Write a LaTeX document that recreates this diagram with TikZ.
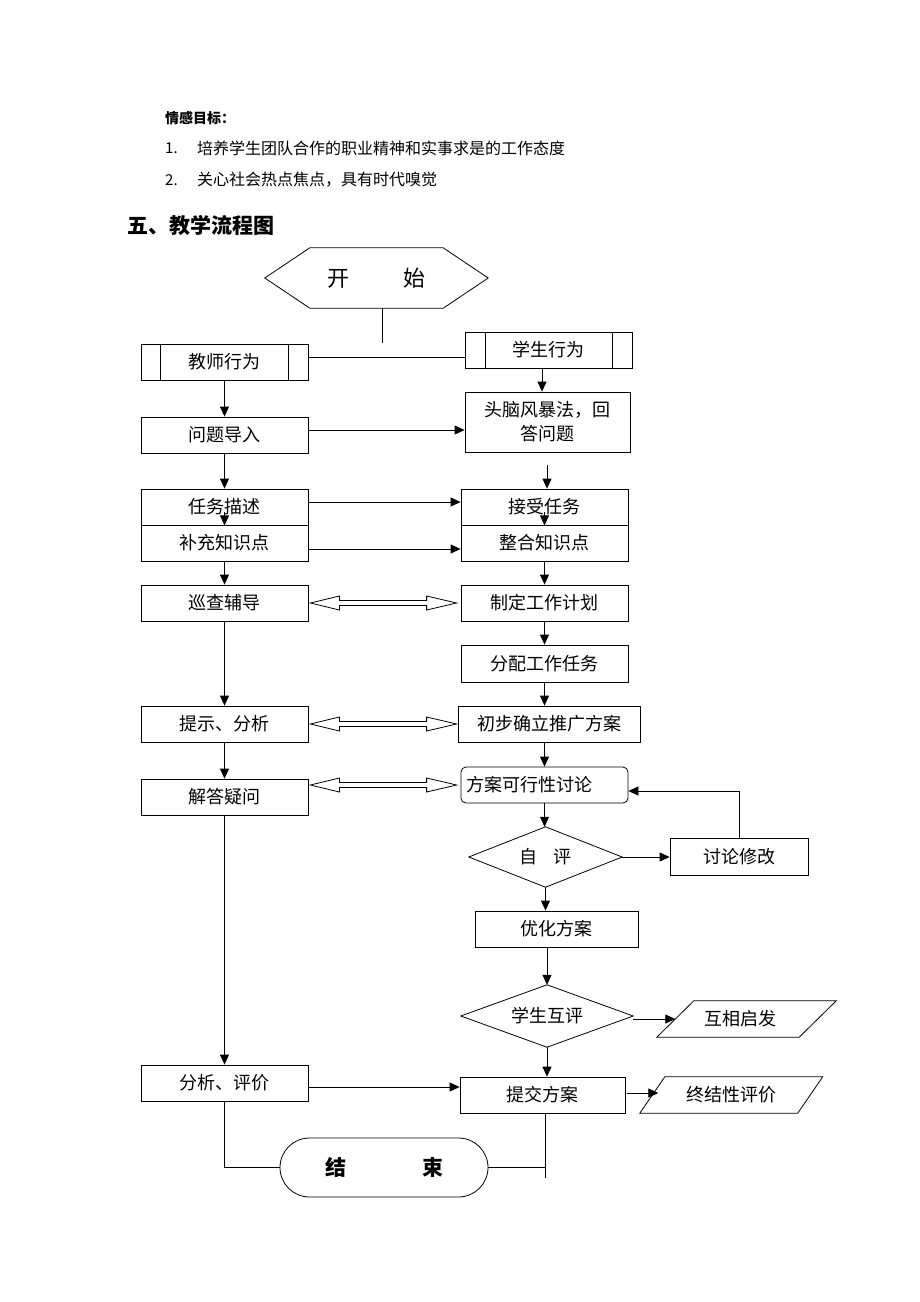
\documentclass[tikz,border=0pt]{standalone}
\usepackage{fontspec}
\setmainfont{Noto Sans CJK SC}
\usetikzlibrary{arrows.meta,calc,shapes.misc}
\tikzset{
  ln/.style={line width=0.8pt},
  arr/.style={ln,-{Triangle[length=10pt,width=9pt]}},
  bx/.style={draw,ln,rectangle,inner sep=0pt,minimum width=167pt,minimum height=36pt,font=\fontsize{18}{18}\selectfont},
  ghost/.style={inner sep=0pt,font=\fontsize{18}{18}\selectfont},
  txt/.style={anchor=west,inner sep=0pt,font=\fontsize{16}{16}\selectfont},
}
\newcommand\hollowdbl[2]{%
  \draw[ln,fill=white] let \p1=(#1), \p2=(#2) in
  (\x1,\y1) -- (\x1+29pt,\y1+7pt) -- (\x1+29pt,\y1+2.5pt) -- (\x2-30pt,\y1+2.5pt) -- (\x2-30pt,\y1+7pt) -- (\x2,\y1)
  -- (\x2-30pt,\y1-7pt) -- (\x2-30pt,\y1-2.5pt) -- (\x1+29pt,\y1-2.5pt) -- (\x1+29pt,\y1-7pt) -- cycle;}
\begin{document}
\begin{tikzpicture}[x=1pt,y=-1pt]
\fill[white] (0,0) rectangle (920,1302);
\useasboundingbox (0,0) rectangle (920,1302);

% header text
\node[txt,font=\fontsize{14}{14}\selectfont\bfseries] (h1) at (165,118) {情感目标：};
\node[txt,font=\fontsize{15}{15}\selectfont] (n1) at (165,148) {1.};
\node[txt] (l1) at (197,148) {培养学生团队合作的职业精神和实事求是的工作态度};
\node[txt,font=\fontsize{15}{15}\selectfont] (n2) at (165,180) {2.};
\node[txt] (l2) at (197,180) {关心社会热点焦点，具有时代嗅觉};
\node[txt,font=\fontsize{21}{21}\selectfont\bfseries] (h2) at (127,225) {五、教学流程图};

% start hexagon
\node[inner sep=0pt,minimum width=223pt,minimum height=60pt,font=\fontsize{22}{22}\selectfont] (start) at (376.5,278) {开\hspace{54pt}始};
\draw[ln] (start.west) -- ([xshift=45pt]start.north west) -- ([xshift=-45pt]start.north east) -- (start.east)
  -- ([xshift=-45pt]start.south east) -- ([xshift=45pt]start.south west) -- cycle;
\coordinate (j1) at (382,343);
\draw[ln] (start.south -| j1) -- (j1);

% teacher column
\node[bx] (T0) at (224.5,362) {教师行为};
\draw[ln] ([xshift=20pt]T0.north west) -- ([xshift=20pt]T0.south west);
\draw[ln] ([xshift=-20pt]T0.north east) -- ([xshift=-20pt]T0.south east);
\node[bx] (T1) at (224.5,435) {问题导入};
\node[bx] (T2) at (224.5,507) {任务描述};
\node[bx] (T3) at (224.5,543) {补充知识点};
\node[bx] (T4) at (224.5,603) {巡查辅导};
\node[bx] (T5) at (224.5,724) {提示、分析};
\node[bx] (T6) at (224.5,797) {解答疑问};
\node[bx] (T7) at (224.5,1083) {分析、评价};

% student column
\node[bx] (S0) at (548.5,350) {学生行为};
\draw[ln] ([xshift=21pt]S0.north west) -- ([xshift=21pt]S0.south west);
\draw[ln] ([xshift=-20pt]S0.north east) -- ([xshift=-20pt]S0.south east);
\node[bx,minimum width=165pt,minimum height=60pt,align=center,font=\fontsize{18}{24}\selectfont] (S1) at (547.5,422) {头脑风暴法，回\\答问题};
\node[bx] (S2) at (544.5,507) {接受任务};
\node[bx] (S3) at (544.5,543) {整合知识点};
\node[bx] (S4) at (544.5,603) {制定工作计划};
\node[bx,minimum height=37pt] (S5) at (544.5,663.5) {分配工作任务};
\node[bx,minimum width=182pt] (S6) at (549,724) {初步确立推广方案};
\node[bx,rounded corners=5pt,text width=157pt,align=left,inner xsep=5pt] (S7) at (544.5,785) {方案可行性讨论};
\node[ghost,minimum width=153pt,minimum height=60pt] (D1) at (545.5,857) {自\hspace{16pt}评};
\draw[ln] (D1.north) -- (D1.east) -- (D1.south) -- (D1.west) -- cycle;
\node[bx,minimum width=138pt,minimum height=37pt] (S8) at (739,856.5) {讨论修改};
\node[bx,minimum width=163pt] (S9) at (556.5,929) {优化方案};
\node[ghost,minimum width=172pt,minimum height=62pt] (D2) at (547,1016) {学生互评};
\draw[ln] (D2.north) -- (D2.east) -- (D2.south) -- (D2.west) -- cycle;
\node[ghost,minimum width=142pt,minimum height=36pt,text width=122pt,align=left,inner xsep=10pt] (P1) at (746.5,1019) {\hspace{19pt}互相启发};
\draw[ln] ([xshift=18.5pt]P1.north west) -- ([xshift=18.5pt]P1.north east) -- ([xshift=-18.5pt]P1.south east) -- ([xshift=-18.5pt]P1.south west) -- cycle;
\node[bx,minimum width=165pt] (S10) at (542.5,1095) {提交方案};
\node[ghost,minimum width=157.5pt,minimum height=36pt] (P2) at (731.25,1095) {终结性评价};
\draw[ln] ([xshift=12.5pt]P2.north west) -- ([xshift=12.5pt]P2.north east) -- ([xshift=-12.5pt]P2.south east) -- ([xshift=-12.5pt]P2.south west) -- cycle;

% end
\node[draw,ln,rounded rectangle,minimum width=208pt,minimum height=59pt,inner sep=0pt,font=\fontsize{21}{21}\selectfont\bfseries] (E) at (384,1167.5) {结\hspace{76pt}束};

% connectors
\draw[ln] ([yshift=5pt]T0.east) -- ([yshift=5pt]T0.east -| S0.west);
\draw[arr] (S0.south -| 542,0) -- (S1.north -| 542,0);
\draw[arr] (T0.south) -- (T1.north);
\draw[arr] ([yshift=5pt]T1.east) -- ([yshift=5pt]T1.east -| S1.west);
\draw[arr] (T1.south) -- (T2.north);
\draw[arr] ([yshift=-13pt]S1.south -| 547,0) -- (S2.north -| 547,0);
\draw[arr] ([yshift=-5pt]T2.center) -- (T2.south);
\draw[arr] ([yshift=-5pt]S2.center) -- (S2.south);
\draw[arr] ([yshift=5pt]T2.east) -- ([yshift=5pt]T2.east -| S2.west);
\draw[arr] ([yshift=-6pt]T3.east) -- ([yshift=-6pt]T3.east -| S3.west);
\draw[arr] (T3.south) -- (T4.north);
\draw[arr] (S3.south) -- (S4.north);
\hollowdbl{[xshift=2pt]T4.east}{[xshift=-4pt]S4.west}
\draw[arr] (S4.south) -- (S5.north);
\draw[arr] (S5.south) -- (S5.south |- S6.north);
\draw[arr] (T4.south) -- (T5.north);
\hollowdbl{[xshift=2pt]T5.east}{[xshift=-1pt]S6.west}
\draw[arr] (T5.south) -- (T6.north);
\draw[arr] (S6.south -| S7.north) -- (S7.north);
\hollowdbl{[xshift=2pt]T6.east |- S7.west}{[xshift=-4pt]S7.west}
\draw[arr] (S7.south) -- (S7.south |- D1.north);
\draw[arr] (D1.east) -- (D1.east -| S8.west);
\draw[arr] (S8.north) |- ([yshift=-6pt]S7.east);
\draw[arr] (D1.south) -- (D1.south |- S9.north);
\draw[arr] (S9.south -| D2.north) -- (D2.north);
\draw[arr] ([yshift=-3pt]D2.east) -- ([yshift=-3pt]D2.east -| P1.west);
\draw[arr] (D2.south) -- (D2.south |- S10.north);
\draw[arr] (T6.south) -- (T7.north);
\draw[arr] ([yshift=-4pt]T7.east) -- ([yshift=-4pt]T7.east -| S10.west);
\draw[arr] ([yshift=2pt,xshift=2pt]S10.east) -- ([yshift=2pt,xshift=6pt]S10.east -| P2.west);
\draw[ln] (T7.south) |- (E.west);
\coordinate (j2) at (545,1178);
\draw[ln] (S10.south -| j2) -- (j2);
\draw[ln] (E.east) -- (E.east -| j2);
\end{tikzpicture}
\end{document}
